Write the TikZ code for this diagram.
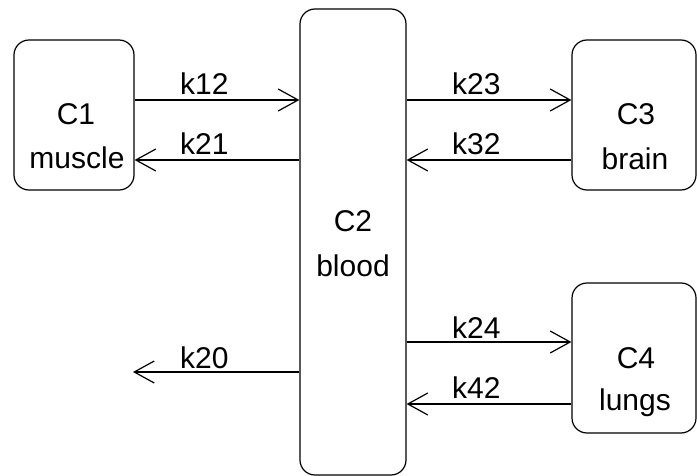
\documentclass[tikz,border=0pt]{standalone}
\usepackage{fontspec}
\setmainfont{Liberation Sans}
\usetikzlibrary{arrows.meta}
\begin{document}
\begin{tikzpicture}[x=1pt,y=-1pt,
  comp/.style={draw, line width=1.2pt, rounded corners=15pt, inner sep=0pt},
  txt/.style={font=\fontsize{30}{36}\selectfont, inner sep=0pt},
  lab/.style={font=\fontsize{30}{36}\selectfont, inner sep=0pt, anchor=base west},
  arr/.style={line width=1.2pt, -{Straight Barb[length=20pt,width=22pt]}}]
\useasboundingbox (0,0) rectangle (697,476);
% compartments
\node[comp, minimum width=120pt, minimum height=150pt] (c1) at (74,115) {};
\node[comp, minimum width=106pt, minimum height=466pt] (c2) at (353,242) {};
\node[comp, minimum width=124pt, minimum height=150pt] (c3) at (634,115) {};
\node[comp, minimum width=124pt, minimum height=150pt] (c4) at (634,358) {};
% texts
\node[txt] (c1a) at (76,114) {C1};
\node[txt] (c1b) at (77,158) {muscle};
\node[txt] (c2a) at (353,221) {C2};
\node[txt] (c2b) at (353,266) {blood};
\node[txt] (c3a) at (636,114) {C3};
\node[txt] (c3b) at (635,159) {brain};
\node[txt] (c4a) at (636,358) {C4};
\node[txt] (c4b) at (635,403) {lungs};
% connectors
\coordinate (k20end) at (133,372);
\draw[arr] (c1.east |- 0,100) -- (c2.west |- 0,100);
\draw[arr] (c2.west |- 0,160) -- (c1.east |- 0,160);
\draw[arr] (c2.east |- 0,100) -- (c3.west |- 0,100);
\draw[arr] (c3.west |- 0,160) -- (c2.east |- 0,160);
\draw[arr] (c2.east |- 0,342) -- (c4.west |- 0,342);
\draw[arr] (c4.west |- 0,404) -- (c2.east |- 0,404);
\draw[arr] (c2.west |- k20end) -- (k20end);
% labels
\node[lab] (lk12) at (180,95) {k12};
\node[lab] (lk21) at (180,155) {k21};
\node[lab] (lk23) at (452,95) {k23};
\node[lab] (lk32) at (452,155) {k32};
\node[lab] (lk24) at (452,338) {k24};
\node[lab] (lk42) at (452,398) {k42};
\node[lab] (lk20) at (180,368) {k20};
\end{tikzpicture}
\end{document}
